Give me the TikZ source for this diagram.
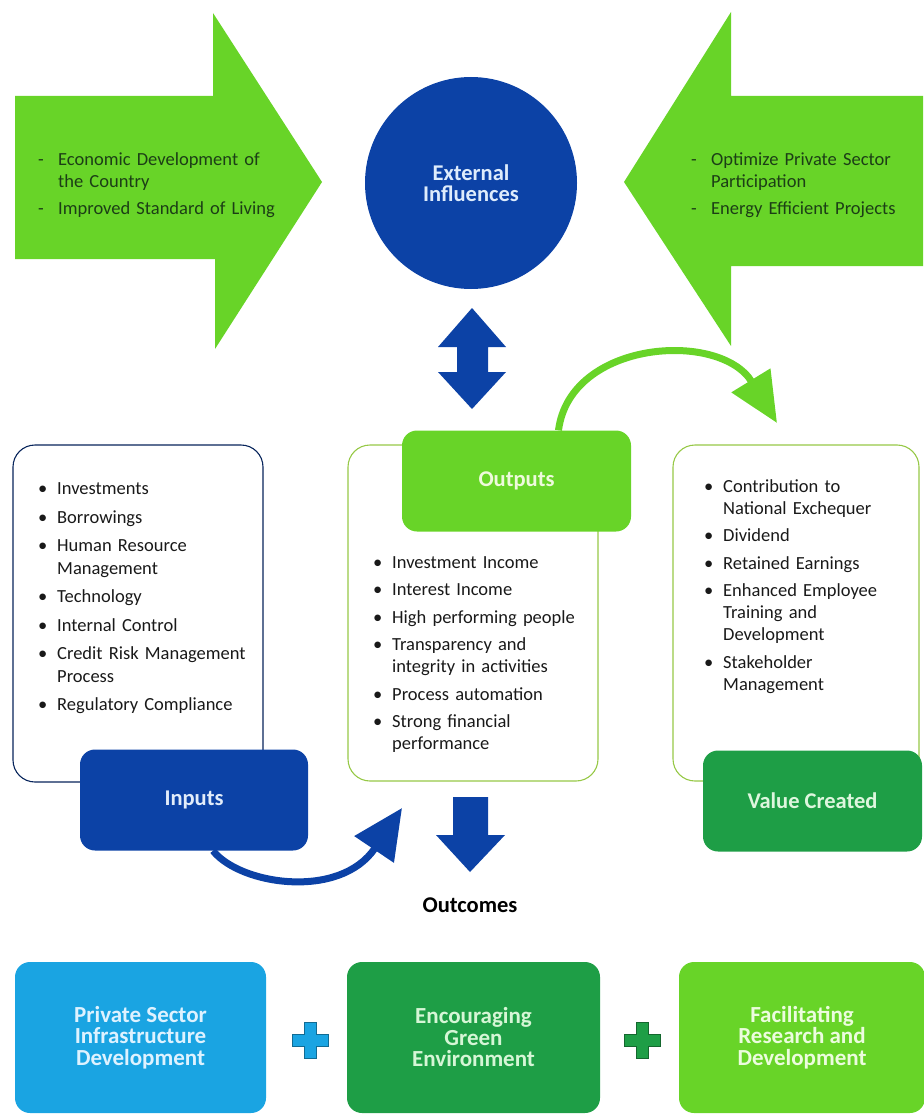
\documentclass[tikz,border=0pt]{standalone}
\usepackage{fontspec}
\setmainfont{Carlito}
\usetikzlibrary{arrows.meta}

\definecolor{lime}{RGB}{104,212,40}
\definecolor{navy}{RGB}{12,66,166}
\definecolor{leaf}{RGB}{30,158,70}
\definecolor{sky}{RGB}{26,164,226}
\definecolor{darkleaf}{RGB}{28,62,22}
\definecolor{rimgreen}{RGB}{150,200,70}
\definecolor{ink}{RGB}{25,25,25}

\newlength{\itemgap}
\setlength{\itemgap}{5pt}
\newcommand{\bitem}[1]{\par\noindent\hangindent=19pt\hangafter=1\makebox[19pt][l]{\textbullet}#1\par\vspace{\itemgap}}
\newcommand{\ditem}[1]{\par\noindent\hangindent=20pt\hangafter=1\makebox[20pt][l]{-}#1\par\vspace{5pt}}

\tikzset{
  listbox/.style={draw, rounded corners=22pt, line width=1.1pt, inner sep=0pt},
  bullets/.style={anchor=north west, inner sep=0pt, text width=#1, align=left,
    font=\fontsize{18.5}{22}\selectfont, text=ink},
  dashes/.style={anchor=north west, inner sep=0pt, text width=270pt, align=left,
    font=\fontsize{18.5}{22}\selectfont, text=darkleaf},
  headbox/.style={rounded corners=15pt, minimum width=228pt, minimum height=101pt,
    font=\bfseries\fontsize{22.5}{22}\selectfont},
  goal/.style={rounded corners=15pt, minimum height=151pt, align=center,
    font=\bfseries\fontsize{23}{21.5}\selectfont},
}

\begin{document}
\begin{tikzpicture}[x=1pt,y=-1pt]
  \useasboundingbox (0,0) rectangle (923,1115);

  % influences
  \fill[lime] (15,96) -- (213,96) -- (213,13) -- (322,182) -- (215,349)
    -- (215,259) -- (15,259) -- cycle;
  \fill[lime] (923,96) -- (731,96) -- (731,12) -- (624,182) -- (731,346)
    -- (731,266) -- (923,266) -- cycle;
  \node[dashes] (econ) at (38,143)
    {\ditem{Economic Development of\newline the Country}\ditem{Improved Standard of Living}};
  \node[dashes, text width=215pt] (priv) at (691,143)
    {\ditem{Optimize Private Sector\newline Participation}\ditem{Energy Efficient Projects}};

  \node[circle, fill=navy, minimum size=212pt, inner sep=0pt, align=center,
    text={rgb,255:red,222;green,236;blue,252}, font=\bfseries\fontsize{22.5}{21}\selectfont]
    (ext) at (471,183) {External\\Influences};

  \fill[navy] (472,308) -- (506,347) -- (488,347) -- (488,372) -- (506,372)
    -- (472,409) -- (438,372) -- (457,372) -- (457,347) -- (438,347) -- cycle;

  % three columns
  \node[listbox, draw=navy!55!black, minimum width=250pt, minimum height=337pt]
    (inbox) at (138,613.5) {};
  \node[listbox, draw=rimgreen, minimum width=250pt, minimum height=336pt]
    (outbox) at (473,613) {};
  \node[listbox, draw=rimgreen, minimum width=246pt, minimum height=336pt]
    (valbox) at (796,613) {};

  \node[headbox, fill=navy, text={rgb,255:red,226;green,236;blue,250}]
    (inputs) at (194,800) {Inputs};
  \node[headbox, fill=lime, minimum width=229pt, text={rgb,255:red,238;green,250;blue,220}]
    (outputs) at (516.5,481) {Outputs};
  \node[headbox, fill=leaf, minimum width=219pt, text={rgb,255:red,222;green,246;blue,222}]
    (value) at (812.5,801) {Value Created};

  \node[bullets=215pt, font=\fontsize{18.5}{22.5}\selectfont] (inlist) at (38,472)
    {\setlength{\itemgap}{6pt}%
     \bitem{Investments}\bitem{Borrowings}\bitem{Human Resource\newline Management}
     \bitem{Technology}\bitem{Internal Control}\bitem{Credit Risk Management\newline Process}
     \bitem{Regulatory Compliance}};
  \node[bullets=215pt] (outlist) at (373,546)
    {\setlength{\itemgap}{5.5pt}%
     \bitem{Investment Income}\bitem{Interest Income}\bitem{High performing people}
     \bitem{Transparency and\newline integrity in activities}\bitem{Process automation}
     \bitem{Strong financial\newline performance}};
  \node[bullets=210pt] (vallist) at (704,470)
    {\setlength{\itemgap}{5.5pt}%
     \bitem{Contribution to\newline National Exchequer}\bitem{Dividend}\bitem{Retained Earnings}
     \bitem{Enhanced Employee\newline Training and\newline Development}
     \bitem{Stakeholder\newline Management}};

  \coordinate (intip) at (402,808);
  \coordinate (valtip) at (777,423);
  \draw[navy, line width=7pt, -{Triangle[length=50pt,width=46pt]}]
    ([xshift=19pt]inputs.south) .. controls (240,885) and (340,900) .. (intip);
  \draw[lime, line width=7pt, -{Triangle[length=50pt,width=44pt]}]
    ([xshift=42pt]outputs.north) .. controls (570,340) and (720,330) .. (valtip);

  \fill[navy] (453,797) -- (488,797) -- (488,835) -- (505,835) -- (470,872)
    -- (436,835) -- (453,835) -- cycle;
  \node[font=\bfseries\fontsize{22.5}{22}\selectfont, text=black] (outc) at (470,905) {Outcomes};

  % outcomes
  \node[goal, fill=sky, minimum width=251pt, text={rgb,255:red,222;green,242;blue,255}]
    (infra) at (140.5,1037.5) {Private Sector\\Infrastructure\\Development};
  \node[goal, fill=leaf, minimum width=253pt, text={rgb,255:red,214;green,246;blue,214}]
    (green) at (473.5,1037.5) {Encouraging\\Green\\Environment};
  \node[goal, fill=lime, minimum width=246pt, text={rgb,255:red,236;green,252;blue,222}]
    (research) at (802,1037.5) {Facilitating\\Research and\\Development};

  \foreach \cx/\col in {310/sky, 642/leaf}
    \draw[fill=\col, draw=\col!65!black, line width=0.8pt, shift={(\cx,1040)}]
      (-6,-18) -- (6,-18) -- (6,-6) -- (18,-6) -- (18,6) -- (6,6) -- (6,18)
      -- (-6,18) -- (-6,6) -- (-18,6) -- (-18,-6) -- (-6,-6) -- cycle;
\end{tikzpicture}
\end{document}
